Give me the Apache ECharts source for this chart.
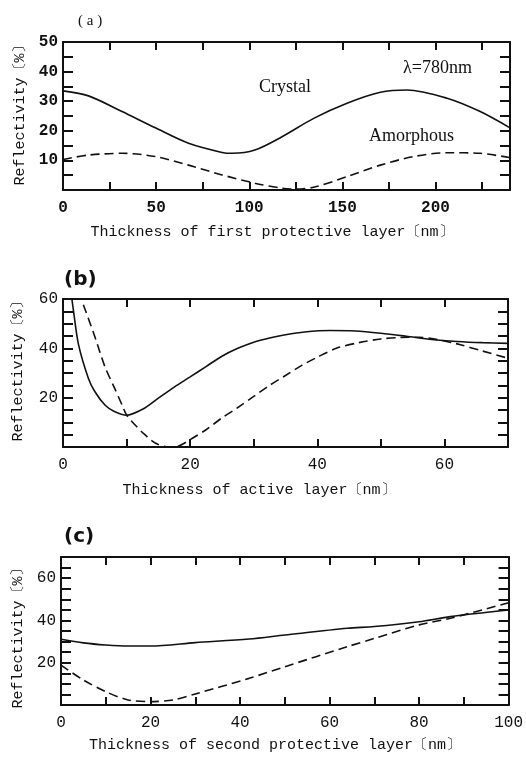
<!DOCTYPE html>
<html><head><meta charset="utf-8">
<script src="https://cdn.jsdelivr.net/npm/echarts@6/dist/echarts.min.js"></script>
</head><body style="margin:0;background:#fff">
<div id="c" style="width:526px;height:757px"></div>
<script>
// Panel (a): first protective layer
const aCrystalX = [0,13.7,31.7,49.6,67.4,85.4,90.8,103,117.6,134.6,152.5,170.4,184.7,206.2,224,240];
const aCrystalY = [33.5,31.8,26.5,21,15.8,12.7,12.4,13.5,18,24.2,29.3,33,33.8,31,26.5,21];
const aAmorX = [0,13.7,31.7,49.6,67.4,85.4,103,117.6,125,135,152.5,170.4,188.2,206.2,224,240];
const aAmorY = [10.3,11.8,12.4,11.3,8.4,5.1,2.3,0.6,0.3,1.0,4.5,8.4,11.3,12.6,12.4,10.9];
// Panel (b): active layer
const bCrystalX = [1.4,1.66,2.45,4,5,6.6,8,10,12.5,15,17.5,20,22.5,25,27.5,30,32.5,35,38,42,46,50,54,58,62,66,70];
const bCrystalY = [60,55,41.4,27.8,22.5,17,14.5,12.9,15.3,19.8,24.3,28.4,32.6,36.8,40,42.5,44.2,45.5,46.6,47.2,47,46.1,44.9,43.6,42.8,42.3,42.0];
const bAmorX = [3.2,5,6.6,8,9.3,10,11.5,12.7,14,15,16.5,18,20,22.5,25,27.5,30,32.5,35,37.5,40,43,46.5,50,53,56,59,62,66,70];
const bAmorY = [57.7,44.8,32.5,24.5,17,13,8.5,5.4,2.5,1,0.1,0.3,3,7,11.8,16,20.5,25,29,33,36.4,40,42.3,43.8,44.4,44.5,43.5,41.8,38.9,36];
// Panel (c): second protective layer
const cCrystalX = [0,5,10,15,20,30,42,50,64,70,80,87,100];
const cCrystalY = [31.1,29.4,28.4,27.9,27.9,29.5,31.2,33.1,36.3,37.1,39.4,41.8,44.9];
const cAmorX = [0,5,10,15,20,25,30,42,50,64,70,80,87,100];
const cAmorY = [18.9,11.8,6.3,2.4,1.6,2.4,5.2,12.6,18.1,27.6,31.5,37.9,41,48.4];

const pair = (xs, ys) => xs.map((x, i) => [x, ys[i]]);

const panels = [
  {grid:{left:63, top:42, width:447, height:148}, xmax:240, xint:25, xlab:50, ymax:50, yint:5, ylab:10, bold:true,
   crystal: pair(aCrystalX, aCrystalY), amor: pair(aAmorX, aAmorY)},
  {grid:{left:63, top:299, width:445, height:148}, xmax:70, xint:10, xlab:20, ymax:60, yint:5, ylab:20, bold:false,
   crystal: pair(bCrystalX, bCrystalY), amor: pair(bAmorX, bAmorY)},
  {grid:{left:61, top:557, width:449, height:148}, xmax:100, xint:10, xlab:20, ymax:70, yint:5, ylab:20, bold:false,
   crystal: pair(cCrystalX, cCrystalY), amor: pair(cAmorX, cAmorY)}
];

const grids = [], xAxes = [], yAxes = [], series = [];
const axLine = {show:true, onZero:false, lineStyle:{color:'#111', width:2}};
panels.forEach((p, i) => {
  grids.push(Object.assign({containLabel:false}, p.grid));
  const labFont = {fontFamily:'Liberation Mono', fontSize:16, fontWeight: p.bold ? 'bold':'normal', color:'#111'};
  xAxes.push({type:'value', gridIndex:i, min:0, max:p.xmax, interval:p.xint, position:'bottom',
    axisLine:axLine, splitLine:{show:false},
    axisTick:{show:true, inside:true, length:8, lineStyle:{color:'#111', width:2}},
    axisLabel:Object.assign({margin:10, showMaxLabel:true, formatter:v => (v % p.xlab === 0) ? String(v) : ''}, labFont)});
  xAxes.push({type:'value', gridIndex:i, min:0, max:p.xmax, interval:p.xint, position:'top',
    axisLine:axLine, splitLine:{show:false},
    axisTick:{show:true, inside:true, length:8, lineStyle:{color:'#111', width:2}},
    axisLabel:{show:false}});
  yAxes.push({type:'value', gridIndex:i, min:0, max:p.ymax, interval:p.yint, position:'left',
    axisLine:axLine, splitLine:{show:false},
    axisTick:{show:true, inside:true, length:10, lineStyle:{color:'#111', width:2}},
    axisLabel:Object.assign({margin:5, formatter:v => (v !== 0 && v % p.ylab === 0) ? String(v) : ''}, labFont)});
  yAxes.push({type:'value', gridIndex:i, min:0, max:p.ymax, interval:p.yint, position:'right',
    axisLine:axLine, splitLine:{show:false},
    axisTick:{show:true, inside:true, length:10, lineStyle:{color:'#111', width:2}},
    axisLabel:{show:false}});
  series.push({type:'line', name:'Crystal', xAxisIndex:2*i, yAxisIndex:2*i, data:p.crystal, smooth:0.3,
    showSymbol:false, clip:true, lineStyle:{color:'#111', width:1.6}});
  series.push({type:'line', name:'Amorphous', xAxisIndex:2*i, yAxisIndex:2*i, data:p.amor, smooth:0.3,
    showSymbol:false, clip:true, lineStyle:{color:'#111', width:1.6, type:[9,5]}});
});

const titleFont = {fontFamily:'Liberation Mono', fontSize:15, fill:'#111'};
const serif = {fontFamily:'Liberation Serif', fill:'#111'};
const graphic = [
  {type:'text', left:78, top:14, style:Object.assign({text:'( a )', fontSize:15}, serif)},
  {type:'text', left:64, top:270, style:{text:'(b)', fontFamily:'DejaVu Sans', fontWeight:'bold', fontSize:20, fill:'#111'}},
  {type:'text', left:64, top:527, style:{text:'(c)', fontFamily:'DejaVu Sans', fontWeight:'bold', fontSize:20, fill:'#111'}},
  {type:'text', left:259, top:78, style:Object.assign({text:'Crystal', fontSize:18}, serif)},
  {type:'text', left:369, top:127, style:Object.assign({text:'Amorphous', fontSize:18}, serif)},
  {type:'text', left:403, top:59, style:Object.assign({text:'λ=780nm', fontSize:18}, serif)},
  {type:'text', x:272, y:232, style:Object.assign({text:'Thickness of first protective layer〔nm〕', align:'center', verticalAlign:'middle'}, titleFont)},
  {type:'text', x:259, y:490, style:Object.assign({text:'Thickness of active layer〔nm〕', align:'center', verticalAlign:'middle'}, titleFont)},
  {type:'text', x:275, y:745, style:Object.assign({text:'Thickness of second protective layer〔nm〕', align:'center', verticalAlign:'middle'}, titleFont)},
  {type:'text', x:20, y:112, rotation:Math.PI/2, style:Object.assign({text:'Reflectivity〔%〕', align:'center', verticalAlign:'middle'}, titleFont)},
  {type:'text', x:18, y:368, rotation:Math.PI/2, style:Object.assign({text:'Reflectivity〔%〕', align:'center', verticalAlign:'middle'}, titleFont)},
  {type:'text', x:18, y:635, rotation:Math.PI/2, style:Object.assign({text:'Reflectivity〔%〕', align:'center', verticalAlign:'middle'}, titleFont)}
];

const chart = echarts.init(document.getElementById('c'), null, {renderer:'canvas'});
chart.setOption({animation:false, backgroundColor:'#fff', grid:grids, xAxis:xAxes, yAxis:yAxes, series:series, graphic:graphic});
</script></body></html>
